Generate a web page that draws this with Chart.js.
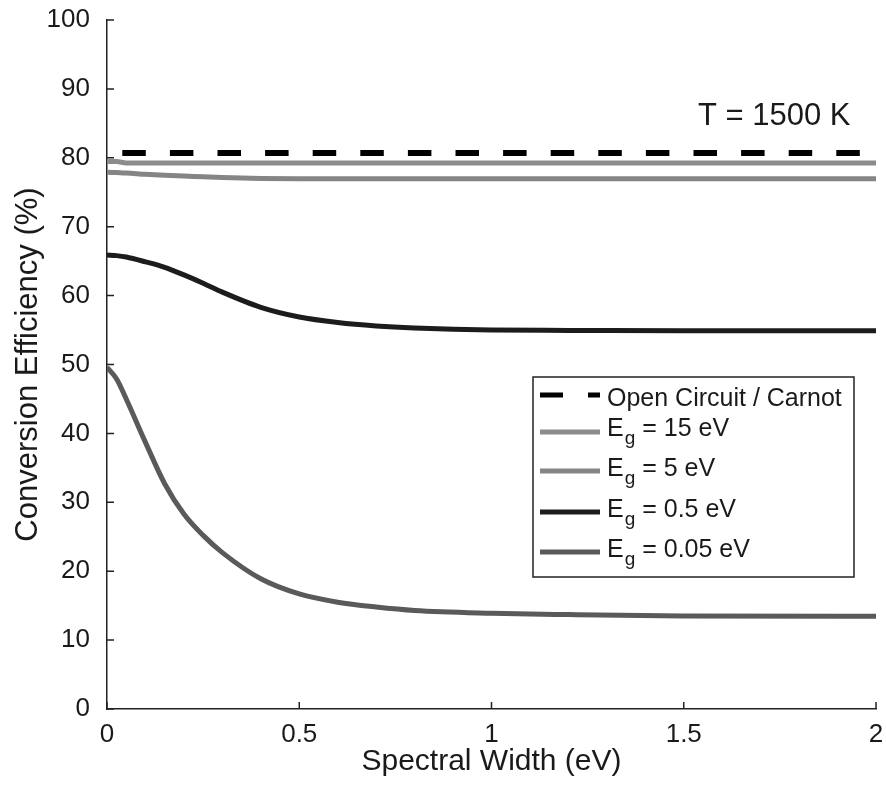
<!DOCTYPE html>
<html lang="en">
<head>
    <meta charset="UTF-8">
    <title>Conversion Efficiency vs Spectral Width</title>
    <style>
        body {
            margin: 0;
            padding: 0;
            background-color: white;
        }

        #chartBox {
            width: 886px;
            height: 788px;
        }
    </style>
</head>
<body>
    <div id="chartBox">
        <canvas id="chartContainer"></canvas>
    </div>

    <script src="https://cdn.jsdelivr.net/npm/chart.js"></script>
    <script>
        // values
        const spectralWidth = [0, 0.025, 0.05, 0.1, 0.15, 0.2, 0.25, 0.3, 0.4, 0.5, 0.6, 0.7, 0.8, 1.0, 1.2, 1.5, 2.0];
        const carnot = [80.7, 80.7, 80.7, 80.7, 80.7, 80.7, 80.7, 80.7, 80.7, 80.7, 80.7, 80.7, 80.7, 80.7, 80.7, 80.7, 80.7];
        const eg15 = [79.45, 79.45, 79.25, 79.25, 79.25, 79.25, 79.25, 79.25, 79.25, 79.25, 79.25, 79.25, 79.25, 79.25, 79.25, 79.25, 79.25];
        const eg5 = [77.9, 77.85, 77.8, 77.6, 77.45, 77.35, 77.25, 77.15, 77.0, 76.95, 76.95, 76.95, 76.95, 76.95, 76.95, 76.95, 76.95];
        const eg05 = [65.9, 65.8, 65.6, 64.9, 64.1, 63.0, 61.8, 60.5, 58.3, 56.9, 56.1, 55.6, 55.3, 55.0, 54.95, 54.9, 54.9];
        const eg005 = [49.6, 47.9, 45.0, 38.7, 32.7, 28.3, 25.2, 22.7, 18.9, 16.7, 15.5, 14.8, 14.3, 13.9, 13.7, 13.5, 13.45];

        const bandGaps = ['15', '5', '0.5', '0.05'];
        const carnotLabel = 'Open Circuit / Carnot';
        const tempLabel = 'T = 1500 K';
        const xTicks = [0, 0.5, 1, 1.5, 2];
        const yTicks = [0, 10, 20, 30, 40, 50, 60, 70, 80, 90, 100];

        const FONT = "'Liberation Sans', Arial, sans-serif";
        Chart.defaults.font.family = FONT;
        Chart.defaults.color = '#1a1a1a';

        const toPoints = ys => spectralWidth.map((x, i) => ({ x: x, y: ys[i] }));

        // inward ticks, the T label and the legend with subscripts
        const overlay = {
            id: 'overlay',
            afterDraw(chart) {
                const { ctx, chartArea: a, scales: { x, y } } = chart;
                ctx.save();

                ctx.strokeStyle = '#222';
                ctx.lineWidth = 1.5;
                ctx.beginPath();
                y.ticks.forEach(t => {
                    const py = y.getPixelForValue(t.value);
                    ctx.moveTo(a.left, py);
                    ctx.lineTo(a.left + 7, py);
                });
                x.ticks.forEach(t => {
                    const px = x.getPixelForValue(t.value);
                    ctx.moveTo(px, a.bottom);
                    ctx.lineTo(px, a.bottom - 7);
                });
                ctx.stroke();

                ctx.fillStyle = '#1a1a1a';
                ctx.textBaseline = 'alphabetic';
                ctx.textAlign = 'left';
                ctx.font = '31px ' + FONT;
                ctx.fillText(tempLabel, a.right - 178, a.top + 105);

                // legend box
                const left = a.right - 343;
                const top = a.top + 357;
                ctx.fillStyle = 'white';
                ctx.fillRect(left, top, 321, 200);
                ctx.strokeStyle = '#222';
                ctx.lineWidth = 1.5;
                ctx.strokeRect(left, top, 321, 200);

                const lineY = [18, 55, 94, 135, 175];
                const baseY = [29, 59, 99, 140, 180];
                const tx = left + 74;
                chart.data.datasets.forEach((ds, i) => {
                    ctx.save();
                    ctx.strokeStyle = ds.borderColor;
                    ctx.lineWidth = 5;
                    ctx.lineCap = 'butt';
                    if (i === 0) ctx.setLineDash([23, 25]);
                    ctx.beginPath();
                    ctx.moveTo(left + 7, top + lineY[i]);
                    ctx.lineTo(left + 67, top + lineY[i]);
                    ctx.stroke();
                    ctx.restore();

                    ctx.fillStyle = '#1a1a1a';
                    const by = top + baseY[i];
                    ctx.font = '25px ' + FONT;
                    if (i === 0) {
                        ctx.fillText(carnotLabel, tx, by);
                    } else {
                        ctx.fillText('E', tx, by);
                        const wE = ctx.measureText('E').width;
                        ctx.font = '19px ' + FONT;
                        ctx.fillText('g', tx + wE + 1, by + 8);
                        const wg = ctx.measureText('g').width;
                        ctx.font = '25px ' + FONT;
                        ctx.fillText(' = ' + bandGaps[i - 1] + ' eV', tx + wE + 1 + wg, by);
                    }
                });

                ctx.restore();
            }
        };

        const ctx = document.getElementById('chartContainer').getContext('2d');
        const chart = new Chart(ctx, {
            type: 'line',
            data: {
                datasets: [
                    {
                        label: carnotLabel,
                        data: toPoints(carnot),
                        borderColor: '#000',
                        borderWidth: 6,
                        borderDash: [23.5, 24.1],
                        borderDashOffset: 32.3
                    },
                    {
                        label: 'Eg = 15 eV',
                        data: toPoints(eg15),
                        borderColor: '#8c8c8c',
                        borderWidth: 5
                    },
                    {
                        label: 'Eg = 5 eV',
                        data: toPoints(eg5),
                        borderColor: '#858585',
                        borderWidth: 5
                    },
                    {
                        label: 'Eg = 0.5 eV',
                        data: toPoints(eg05),
                        borderColor: '#1c1c1c',
                        borderWidth: 5
                    },
                    {
                        label: 'Eg = 0.05 eV',
                        data: toPoints(eg005),
                        borderColor: '#5a5a5a',
                        borderWidth: 5
                    }
                ]
            },
            options: {
                responsive: true,
                maintainAspectRatio: false,
                animation: false,
                elements: {
                    point: { radius: 0 },
                    line: { cubicInterpolationMode: 'monotone', borderCapStyle: 'butt' }
                },
                layout: {
                    padding: { left: 4, right: 10, top: 20, bottom: 0 }
                },
                plugins: {
                    legend: { display: false },
                    tooltip: { enabled: false }
                },
                scales: {
                    x: {
                        type: 'linear',
                        min: 0,
                        max: 2,
                        afterBuildTicks: s => { s.ticks = xTicks.map(v => ({ value: v })); },
                        afterFit: s => {
                            s.height = 79;
                            s.paddingLeft = 0;
                            s.paddingRight = 0;
                        },
                        grid: { drawOnChartArea: false, drawTicks: false },
                        border: { display: true, color: '#222', width: 1.5 },
                        ticks: {
                            padding: 10,
                            font: { size: 26 },
                            color: '#1a1a1a',
                            callback: v => String(v)
                        },
                        title: {
                            display: true,
                            text: 'Spectral Width (eV)',
                            font: { size: 30 },
                            color: '#1a1a1a',
                            padding: { top: 0, bottom: 8 }
                        }
                    },
                    y: {
                        min: 0,
                        max: 100,
                        afterBuildTicks: s => { s.ticks = yTicks.map(v => ({ value: v })); },
                        afterFit: s => {
                            s.width = 103;
                            s.paddingTop = 0;
                            s.paddingBottom = 0;
                        },
                        grid: { drawOnChartArea: false, drawTicks: false },
                        border: { display: true, color: '#222', width: 1.5 },
                        ticks: { padding: 17, font: { size: 26 }, color: '#1a1a1a' },
                        title: {
                            display: true,
                            text: 'Conversion Efficiency (%)',
                            font: { size: 31 },
                            color: '#1a1a1a',
                            padding: { top: 6, bottom: 0 }
                        }
                    }
                }
            },
            plugins: [overlay]
        });
    </script>
</body>
</html>
